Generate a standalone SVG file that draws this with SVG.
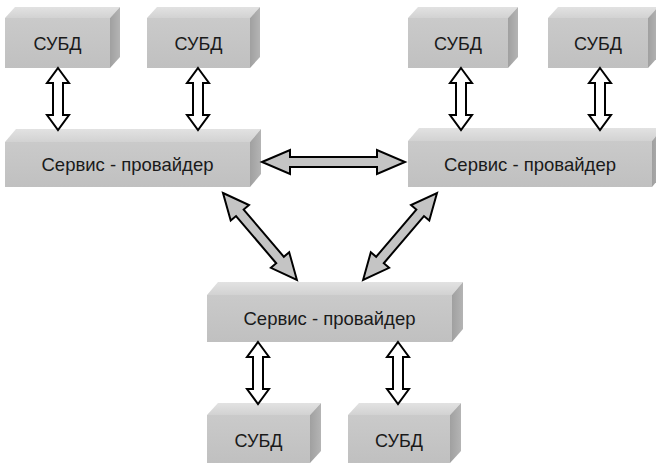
<svg xmlns="http://www.w3.org/2000/svg" xmlns:xlink="http://www.w3.org/1999/xlink" width="656" height="466" viewBox="0 0 656 466">
  <defs>
    <linearGradient id="gFront" x1="0" y1="0" x2="0" y2="1">
      <stop offset="0" stop-color="#cacaca"/>
      <stop offset="1" stop-color="#c0c0c0"/>
    </linearGradient>
    <linearGradient id="gTop" x1="0" y1="0" x2="0" y2="1">
      <stop offset="0" stop-color="#e2e2e2"/>
      <stop offset="1" stop-color="#d2d2d2"/>
    </linearGradient>
    <linearGradient id="gSide" x1="0" y1="0" x2="1" y2="0">
      <stop offset="0" stop-color="#a0a0a0"/>
      <stop offset="1" stop-color="#b4b4b4"/>
    </linearGradient>
    <!-- hollow vertical double arrow, 62 px tall, centred on x = 0 -->
    <polygon id="vArrow" points="0,0 11,15 5,15 5,47 11,47 0,62 -11,47 -5,47 -5,15 -11,15"/>
  </defs>
  <style>
    .front { fill: url(#gFront); }
    .top { fill: url(#gTop); }
    .side { fill: url(#gSide); }
    .lbl { font-family: "Liberation Sans", Arial, sans-serif; font-size: 18px; fill: #1a1a1a; text-anchor: middle; }
    .sp { font-size: 18.5px; }
    .hollow { fill: #ffffff; stroke: #000000; stroke-width: 2; stroke-linejoin: miter; }
    .grey { fill: #c4c4c4; stroke: #000000; stroke-width: 2; stroke-linejoin: miter; }
  </style>
  <rect width="656" height="466" fill="#ffffff"/>

  <!-- database boxes, top row -->
  <g id="db1">
    <polygon class="top" points="5,18 15,7 120,7 110,18"/>
    <polygon class="side" points="110,18 120,7 120,57 110,68"/>
    <rect class="front" x="5" y="18" width="105" height="50"/>
    <text class="lbl" x="57.5" y="50">СУБД</text>
  </g>
  <g id="db2">
    <polygon class="top" points="147,18 157,7 260,7 250,18"/>
    <polygon class="side" points="250,18 260,7 260,57 250,68"/>
    <rect class="front" x="147" y="18" width="103" height="50"/>
    <text class="lbl" x="198.5" y="50">СУБД</text>
  </g>
  <g id="db3">
    <polygon class="top" points="408,18 418,7 518,7 508,18"/>
    <polygon class="side" points="508,18 518,7 518,57 508,68"/>
    <rect class="front" x="408" y="18" width="100" height="50"/>
    <text class="lbl" x="458" y="50">СУБД</text>
  </g>
  <g id="db4">
    <polygon class="top" points="548,18 558,7 658,7 648,18"/>
    <polygon class="side" points="648,18 658,7 658,57 648,68"/>
    <rect class="front" x="548" y="18" width="100" height="50"/>
    <text class="lbl" x="598" y="50">СУБД</text>
  </g>

  <!-- service providers -->
  <g id="sp-left">
    <polygon class="top" points="5,142 16,129 261,129 250,142"/>
    <polygon class="side" points="250,142 261,129 261,174 250,187"/>
    <rect class="front" x="5" y="142" width="245" height="45"/>
    <text class="lbl sp" x="127.5" y="171">Сервис - провайдер</text>
  </g>
  <g id="sp-right">
    <polygon class="top" points="408,141 419,128 663,128 652,141"/>
    <polygon class="side" points="652,141 663,128 663,174 652,187"/>
    <rect class="front" x="408" y="141" width="244" height="46"/>
    <text class="lbl sp" x="530" y="171">Сервис - провайдер</text>
  </g>
  <g id="sp-bottom">
    <polygon class="top" points="207,295 218,282 463,282 452,295"/>
    <polygon class="side" points="452,295 463,282 463,329 452,342"/>
    <rect class="front" x="207" y="295" width="245" height="47"/>
    <text class="lbl sp" x="329.5" y="325">Сервис - провайдер</text>
  </g>

  <!-- database boxes, bottom row -->
  <g id="db5">
    <polygon class="top" points="207,415 218,403 321,403 310,415"/>
    <polygon class="side" points="310,415 321,403 321,451 310,463"/>
    <rect class="front" x="207" y="415" width="103" height="48"/>
    <text class="lbl" x="258.5" y="447">СУБД</text>
  </g>
  <g id="db6">
    <polygon class="top" points="348,415 359,403 461,403 450,415"/>
    <polygon class="side" points="450,415 461,403 461,451 450,463"/>
    <rect class="front" x="348" y="415" width="102" height="48"/>
    <text class="lbl" x="399" y="447">СУБД</text>
  </g>

  <!-- connectors -->
  <g id="connectors">
    <use href="#vArrow" class="hollow" transform="translate(58,68)"/>
    <use href="#vArrow" class="hollow" transform="translate(198,68)"/>
    <use href="#vArrow" class="hollow" transform="translate(461,68)"/>
    <use href="#vArrow" class="hollow" transform="translate(600,68)"/>
    <use href="#vArrow" class="hollow" transform="translate(258,342)"/>
    <use href="#vArrow" class="hollow" transform="translate(398,342)"/>
    <!-- provider to provider, horizontal -->
    <polygon class="grey" points="262,162 290,150 290,157 377,157 377,150 405,162 377,174 377,167 290,167 290,174"/>
    <!-- diagonals, drawn along +x and rotated -->
    <polygon class="grey" transform="translate(223,193) rotate(49.6)" points="0,0 26,-12 26,-5 88,-5 88,-12 114,0 88,12 88,5 26,5 26,12"/>
    <polygon class="grey" transform="translate(437,193) rotate(130.4)" points="0,0 26,-12 26,-5 88,-5 88,-12 114,0 88,12 88,5 26,5 26,12"/>
  </g>
</svg>
